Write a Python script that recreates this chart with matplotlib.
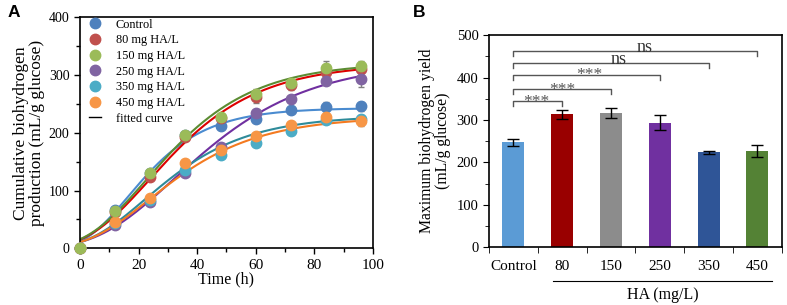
import numpy as np
import matplotlib
matplotlib.use("Agg")
import matplotlib.pyplot as plt
from matplotlib.lines import Line2D
from matplotlib.ticker import MultipleLocator, FixedLocator

plt.rcParams['font.family'] = ['Liberation Serif', 'DejaVu Serif']

# ---------------- Panel A data ----------------
time_h = [0, 12, 24, 36, 48, 60, 72, 84, 96]
series_labels = ['Control', '80 mg HA/L', '150 mg HA/L', '250 mg HA/L', '350 mg HA/L', '450 mg HA/L']
control = [0, 67, 130, 196, 211, 224, 240, 245, 246]
ha80 = [0, 63, 123, 193, 225, 262, 283, 306, 310]
ha150 = [0, 65, 130, 196, 228, 267, 287, 313, 315]
ha250 = [0, 40, 81, 131, 175, 234, 258, 290, 294]
ha350 = [0, 44, 84, 136, 162, 183, 204, 222, 224]
ha450 = [0, 45, 87, 147, 170, 195, 214, 227, 221]
control_err = [0, 3, 4, 5, 5, 5, 4, 8, 8]
ha80_err = [0, 4, 5, 5, 6, 10, 8, 6, 8]
ha150_err = [0, 4, 4, 6, 5, 9, 5, 12, 10]
ha250_err = [0, 3, 4, 4, 5, 6, 5, 6, 15]
ha350_err = [0, 3, 3, 4, 6, 4, 5, 5, 6]
ha450_err = [0, 3, 4, 4, 10, 5, 5, 8, 10]
# modified Gompertz fit parameters (P, Rm, lambda)
fit_P = [243, 320, 322, 325, 230, 228]
fit_Rm = [6.0, 5.6, 5.8, 4.6, 4.3, 4.0]
fit_lambda = [1.5, 2.5, 2.2, 6.0, 2.5, 2.5]

# ---------------- Panel B data ----------------
groups = ['Control', '80', '150', '250', '350', '450']
yield_mean = [247, 313, 316, 294, 224, 227]
yield_err = [9, 10, 12, 18, 3, 14]
sig_labels = ['***', '***', '***', 'ns', 'ns']
sig_levels = [345, 373, 407, 435, 462]

# ---------------- styles ----------------
point_colors = ['#4f81bd', '#c0504d', '#9bbb59', '#8064a2', '#4bacc6', '#f79646']
curve_colors = ['#4a8bd0', '#dd0000', '#5b8c32', '#7030a0', '#2e8b9a', '#f47a20']
bar_colors = ['#5b9bd5', '#990000', '#8c8c8c', '#7030a0', '#2f5597', '#548235']

fig = plt.figure(figsize=(7.87, 3.05), dpi=100)
axA = fig.add_axes([0.1017, 0.186, 0.372, 0.757])
axB = fig.add_axes([0.6213, 0.189, 0.372, 0.696])

values = [control, ha80, ha150, ha250, ha350, ha450]
errs = [control_err, ha80_err, ha150_err, ha250_err, ha350_err, ha450_err]
t_fit = np.linspace(0, 96, 300)
for i in range(6):
    P, Rm, lam = fit_P[i], fit_Rm[i], fit_lambda[i]
    y = P * np.exp(-np.exp(Rm * np.e / P * (lam - t_fit) + 1))
    axA.plot(t_fit, y, color=curve_colors[i], lw=1.5, zorder=2)

order = [0, 1, 3, 4, 5, 2]
for k, i in enumerate(order):
    axA.errorbar(time_h, values[i], yerr=errs[i], fmt='none', ecolor='#808080',
                 elinewidth=1, capsize=2.5, zorder=3 + k * 0.1)
    axA.plot(time_h, values[i], 'o', color=point_colors[i], ms=7.5,
             mec=point_colors[i], zorder=4 + k * 0.1, clip_on=False)

axA.set_xlim(0, 100)
axA.set_ylim(0, 400)
axA.xaxis.set_major_locator(MultipleLocator(20))
axA.xaxis.set_minor_locator(MultipleLocator(10))
axA.yaxis.set_major_locator(MultipleLocator(100))
axA.yaxis.set_minor_locator(MultipleLocator(50))
axA.tick_params(which='both', direction='out', width=1)
axA.tick_params(axis='x', labelsize=11)
axA.tick_params(axis='y', labelsize=10)
axA.tick_params(which='major', length=4)
axA.tick_params(which='minor', length=3)
for s in axA.spines.values():
    s.set_linewidth(1.2)
axA.set_xlabel('Time (h)', fontsize=11.5, labelpad=0)
axA.set_ylabel('Cumulative biohydrogen\nproduction (mL/g glucose)', fontsize=12.5, labelpad=3, linespacing=1.0)

handles = [Line2D([], [], ls='none', marker='o', ms=7.5, color=c, mec=c) for c in point_colors]
handles.append(Line2D([], [], color='black', lw=1))
axA.legend(handles, series_labels + ['fitted curve'], loc='upper left',
           bbox_to_anchor=(0.03, 0.995), frameon=False, fontsize=8.8,
           handlelength=1.0, handletextpad=1.2, labelspacing=0.3,
           borderaxespad=0, borderpad=0)

# ---------------- Panel B ----------------
xpos = np.arange(len(groups))
axB.bar(xpos, yield_mean, width=0.45, color=bar_colors, zorder=2)
axB.errorbar(xpos, yield_mean, yerr=yield_err, fmt='none', ecolor='black',
             elinewidth=1, capsize=4, capthick=1, zorder=3)
axB.set_xlim(-0.5, 5.5)
axB.set_ylim(0, 500)
axB.yaxis.set_major_locator(MultipleLocator(100))
axB.yaxis.set_minor_locator(MultipleLocator(50))
axB.set_xticks(xpos)
axB.set_xticklabels(groups)
axB.xaxis.set_minor_locator(FixedLocator(np.arange(-0.5, 6, 1.0)))
axB.tick_params(axis='x', which='major', length=0, pad=9, labelsize=11)
axB.tick_params(axis='x', which='minor', length=4, direction='out')
axB.tick_params(axis='y', which='both', direction='out', labelsize=10.5)
axB.tick_params(axis='y', which='major', length=4)
axB.tick_params(axis='y', which='minor', length=3)
for s in axB.spines.values():
    s.set_linewidth(1.2)
axB.set_ylabel('Maximum biohydrogen yield\n(mL/g glucose)', fontsize=11.3, labelpad=4, linespacing=1.0)

drop = 12
sig_text_x = [0.46, 1.0, 1.56, 2.15, 2.68]
for j, (lab, lev) in enumerate(zip(sig_labels, sig_levels)):
    xe = j + 1
    axB.plot([0, 0, xe, xe], [lev - drop, lev, lev, lev - drop], color='#555555', lw=1, zorder=1)
    if lab == 'ns':
        axB.text(sig_text_x[j], lev - 3, lab, ha='center', va='baseline', fontsize=13, color='#333333')
    else:
        axB.text(sig_text_x[j], lev - 11, lab, ha='center', va='baseline', fontsize=12.5, color='#555555')

trans = axB.get_xaxis_transform()
axB.plot([0.82, 5.31], [-0.157, -0.157], color='black', lw=0.8, transform=trans, clip_on=False)
axB.text(3.07, -0.225, 'HA (mg/L)', transform=trans, ha='center', va='center', fontsize=11.5)

fig.text(0.009, 0.958, 'A', fontsize=12.5, fontweight='bold', family='Liberation Sans', va='center')
fig.text(0.524, 0.958, 'B', fontsize=12.5, fontweight='bold', family='Liberation Sans', va='center')

fig.savefig('out.png', dpi=100)
